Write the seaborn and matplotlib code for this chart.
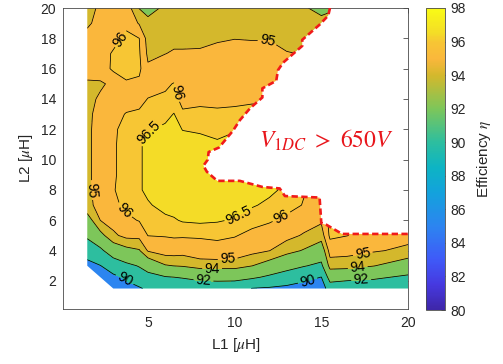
import numpy as np
import matplotlib
matplotlib.use("Agg")
import matplotlib.pyplot as plt
import matplotlib.patches as mpatches
from matplotlib.colors import LinearSegmentedColormap, Normalize
import matplotlib.cm as cm
import seaborn as sns

# ---------------- data ----------------
L1_grid = [1.5, 2.25, 3, 3.75, 4.5, 5, 6, 6.5, 7, 8, 9, 10, 11, 12, 13, 14, 15, 15.5, 16.5, 18, 20]
L2_grid = [1.5, 2.25, 3, 4, 5, 6, 7, 8, 9, 10, 11, 12, 13, 14, 15, 16, 17, 18, 19, 20]

# efficiency (%), one list per L1 value, running up the L2 grid
eff_by_L1 = [
    [87.0, 87.8, 89.4, 90.9, 92.3, 93.4, 94.75, 94.8, 94.8, 94.8, 94.8, 94.8, 94.8, 94.8, 94.9, 95.3, 95.4, 95.2, 94.9, 94.8],
    [87.8, 88.8, 89.95, 91.6, 93.6, 95.0, 95.3, 95.4, 95.4, 95.4, 95.4, 95.4, 95.3, 95.1, 94.9, 95.4, 95.6, 95.4, 95.2, 95.1],
    [89.3, 89.7, 90.8, 93.1, 94.8, 95.4, 95.8, 95.95, 95.9, 95.9, 95.9, 95.9, 95.7, 95.3, 95.15, 96.2, 96.1, 95.7, 95.5, 95.4],
    [89.6, 90.2, 91.6, 93.6, 95.3, 95.8, 96.2, 96.3, 96.3, 96.3, 96.3, 96.2, 96.05, 95.6, 95.9, 96.3, 96.3, 96.2, 95.8, 95.6],
    [89.8, 91.2, 92.1, 93.9, 95.3, 96.05, 96.3, 96.45, 96.45, 96.45, 96.45, 96.3, 96.1, 95.8, 95.8, 96.2, 96.1, 96.0, 94.9, 93.95],
    [90.3, 91.4, 92.8, 95.1, 96.02, 96.3, 96.45, 96.6, 96.6, 96.6, 96.6, 96.45, 96.2, 96.02, 95.7, 95.15, 94.8, 94.6, 94.3, 93.6],
    [90.8, 91.9, 93.9, 95.5, 96.05, 96.4, 96.65, 96.7, 96.75, 96.75, 96.7, 96.6, 96.35, 96.1, 95.9, 95.5, 94.98, 94.7, 94.5, 94.2],
    [90.9, 92.0, 94.02, 95.5, 96.1, 96.45, 96.7, 96.75, 96.8, 96.8, 96.75, 96.7, 96.52, 96.2, 96.03, 95.6, 95.1, 94.75, 94.6, 94.5],
    [91.0, 92.1, 94.1, 95.4, 96.1, 96.55, 96.75, 96.8, 96.85, 96.85, 96.75, 96.48, 96.1, 95.8, 95.7, 95.5, 95.1, 94.75, 94.6, 94.6],
    [91.1, 92.4, 94.5, 95.6, 96.1, 96.6, 96.8, 96.85, 96.9, 96.9, 96.75, 96.4, 96.15, 95.85, 95.7, 95.5, 95.1, 94.8, 94.6, 94.5],
    [91.1, 92.5, 94.5, 95.7, 96.15, 96.55, 96.8, 96.85, 96.9, 96.9, 96.6, 96.3, 96.1, 95.85, 95.7, 95.5, 95.25, 94.9, 94.7, 94.6],
    [91.0, 92.5, 94.5, 95.6, 96.05, 96.45, 96.7, 96.85, 96.9, 96.9, 96.7, 96.45, 96.15, 95.85, 95.7, 95.5, 95.3, 94.98, 94.7, 94.6],
    [89.95, 92.3, 94.02, 95.3, 95.8, 96.25, 96.55, 96.7, 96.75, 96.7, 96.55, 96.3, 96.1, 95.95, 95.75, 95.5, 95.3, 94.95, 94.7, 94.6],
    [89.8, 91.7, 93.4, 95.02, 95.55, 96.1, 96.4, 96.6, 96.6, 96.5, 96.4, 96.2, 96.1, 95.95, 95.8, 95.55, 95.3, 94.95, 94.7, 94.6],
    [89.6, 91.1, 92.7, 94.4, 95.3, 95.8, 96.3, 96.4, 96.4, 96.3, 96.2, 96.1, 95.95, 95.8, 95.6, 95.4, 95.05, 94.7, 94.6, 94.5],
    [89.3, 90.5, 92.1, 93.9, 94.9, 95.45, 95.95, 96.05, 96.0, 95.9, 95.8, 95.7, 95.6, 95.5, 95.4, 95.2, 94.95, 94.8, 94.5, 94.1],
    [88.9, 89.98, 91.6, 93.2, 94.5, 95.15, 95.6, 95.7, 95.6, 95.5, 95.4, 95.3, 95.2, 95.1, 95.0, 94.9, 94.8, 94.6, 94.3, 93.7],
    [91.0, 92.8, 94.5, 95.4, 96.2, 96.3, 96.0, 95.8, 95.6, 95.5, 95.4, 95.3, 95.2, 95.1, 95.0, 94.9, 94.8, 94.7, 94.5, 93.8],
    [90.9, 92.5, 94.5, 95.3, 96.02, 96.1, 95.9, 95.7, 95.6, 95.5, 95.4, 95.3, 95.2, 95.1, 95.0, 94.9, 94.8, 94.7, 94.6, 94.5],
    [90.8, 92.3, 94.05, 95.1, 95.5, 95.6, 95.6, 95.6, 95.5, 95.5, 95.4, 95.3, 95.2, 95.1, 95.0, 94.9, 94.8, 94.7, 94.6, 94.5],
    [90.6, 91.7, 93.2, 94.8, 95.3, 95.5, 95.5, 95.5, 95.5, 95.5, 95.4, 95.3, 95.2, 95.1, 95.0, 94.9, 94.8, 94.7, 94.6, 94.5],
]

fill_levels = [85, 90, 92, 94, 95, 96, 96.5, 98]
band_hex = ["#2C85F0", "#2DBE9F", "#7DC65A", "#D4B82C", "#FAB73C", "#F7C634", "#F4DC27"]
line_levels = [90, 92, 94, 95, 96, 96.5]

# V1DC > 650 V limit (dashed red border)
boundary_L1 = [15.5, 15.4, 14.9, 13.9, 13.9, 12.8, 12.5, 12.4, 11.6, 11.6, 10.9, 10.3, 9.9, 9.1,
               8.5, 8.45, 8.2, 8.4, 9.0, 10.3, 11.6, 12.6, 12.9, 14.9, 15.0, 15.3, 16.2, 20.0]
boundary_L2 = [20.0, 19.5, 18.9, 17.9, 17.5, 16.4, 15.9, 15.2, 14.7, 14.1, 13.4, 12.6, 11.9, 10.8,
               10.5, 10.0, 9.6, 9.2, 8.6, 8.6, 8.2, 8.1, 7.6, 7.5, 5.8, 5.7, 5.1, 5.1]
corner_cut = [(1.5, 3.0), (3.0, 1.5)]

label_spots = [(3.5, 17.9), (6.5, 14.4), (11.9, 17.7), (5.2, 11.6), (1.8, 8.0), (3.6, 6.6),
               (10.3, 6.2), (12.8, 6.0), (9.6, 3.45), (8.7, 2.8), (8.2, 2.0), (3.6, 2.0),
               (14.2, 2.05), (17.4, 3.75), (17.1, 2.9), (17.3, 2.05)]

cbar_ticks = [80, 82, 84, 86, 88, 90, 92, 94, 96, 98]
cbar_vals = [80, 81.5, 83, 85, 87, 88.5, 90, 92, 94, 95, 96, 96.5, 98]
cbar_hex = ["#3E26A8", "#4639E0", "#3F5AF8", "#2C85F0", "#13A2DC", "#0DB4C4", "#2DBE9F",
            "#7DC65A", "#D4B82C", "#FAB73C", "#F7C634", "#F4DC27", "#F9FB15"]

# ---------------- style ----------------
sns.set_style("white")
plt.rcParams["font.family"] = ["Liberation Sans", "DejaVu Sans"]
plt.rcParams["mathtext.fontset"] = "stix"
band_colors = sns.color_palette(band_hex)
edge_col = "#4a4a4a"
txt_col = "#262626"

fig = plt.figure(figsize=(5.03, 3.64), dpi=100)
ax = fig.add_axes([63 / 503, 55 / 364, 345 / 503, 301 / 364])

X, Y = np.meshgrid(L1_grid, L2_grid)
Z = np.array(eff_by_L1).T

cf = ax.contourf(X, Y, Z, levels=fill_levels, colors=band_colors)
cl = ax.contour(X, Y, Z, levels=line_levels, colors="k", linewidths=0.55)

region = [(L1_grid[0], L2_grid[-1])] + corner_cut + [(L1_grid[-1], L2_grid[0])] + \
    list(zip(boundary_L1[::-1], boundary_L2[::-1]))
clip_patch = mpatches.Polygon(region, closed=True, transform=ax.transData,
                              facecolor="none", edgecolor="none")
cf.set_clip_path(clip_patch)
cl.set_clip_path(clip_patch)

ax.clabel(cl, manual=label_spots, inline=True, inline_spacing=3, fontsize=10,
          fmt=lambda v: f"{v:g}", colors="k")

ax.plot(boundary_L1, boundary_L2, color="#F01A1A", lw=1.9, dashes=(2.4, 1.3),
        dash_capstyle="butt", zorder=5)
ax.text(15.3, 11.3, r"$V_{1DC}\ >\ 650V$", color="#E8151B", fontsize=17,
        ha="center", va="center")

ax.set_xlim(0.1, 20)
ax.set_ylim(0.15, 20)
ax.set_xticks([5, 10, 15, 20])
ax.set_yticks(list(range(2, 21, 2)))
ax.tick_params(direction="in", length=3.5, width=0.6, top=True, right=True,
               color=edge_col, labelcolor=txt_col, labelsize=10, pad=5)
for s in ax.spines.values():
    s.set_linewidth(0.6)
    s.set_color(edge_col)
ax.set_xlabel(r"L1 [$\mu$H]", fontsize=11, color=txt_col, labelpad=4)
ax.set_ylabel(r"L2 [$\mu$H]", fontsize=11, color=txt_col, labelpad=4)

# colorbar
cmap = LinearSegmentedColormap.from_list(
    "parula_like", [((v - 80) / 18, c) for v, c in zip(cbar_vals, cbar_hex)])
cax = fig.add_axes([426 / 503, 54 / 364, 19 / 503, 302 / 364])
sm = cm.ScalarMappable(norm=Normalize(80, 98), cmap=cmap)
cb = fig.colorbar(sm, cax=cax, ticks=cbar_ticks)
cb.outline.set_linewidth(0.6)
cb.outline.set_edgecolor(edge_col)
cax.tick_params(direction="in", length=3, width=0.6, color=edge_col,
                labelcolor=txt_col, labelsize=10, pad=4)
cb.set_label(r"Efficiency $\eta$", fontsize=11, color=txt_col, labelpad=6)

fig.savefig("out.png", dpi=100)
